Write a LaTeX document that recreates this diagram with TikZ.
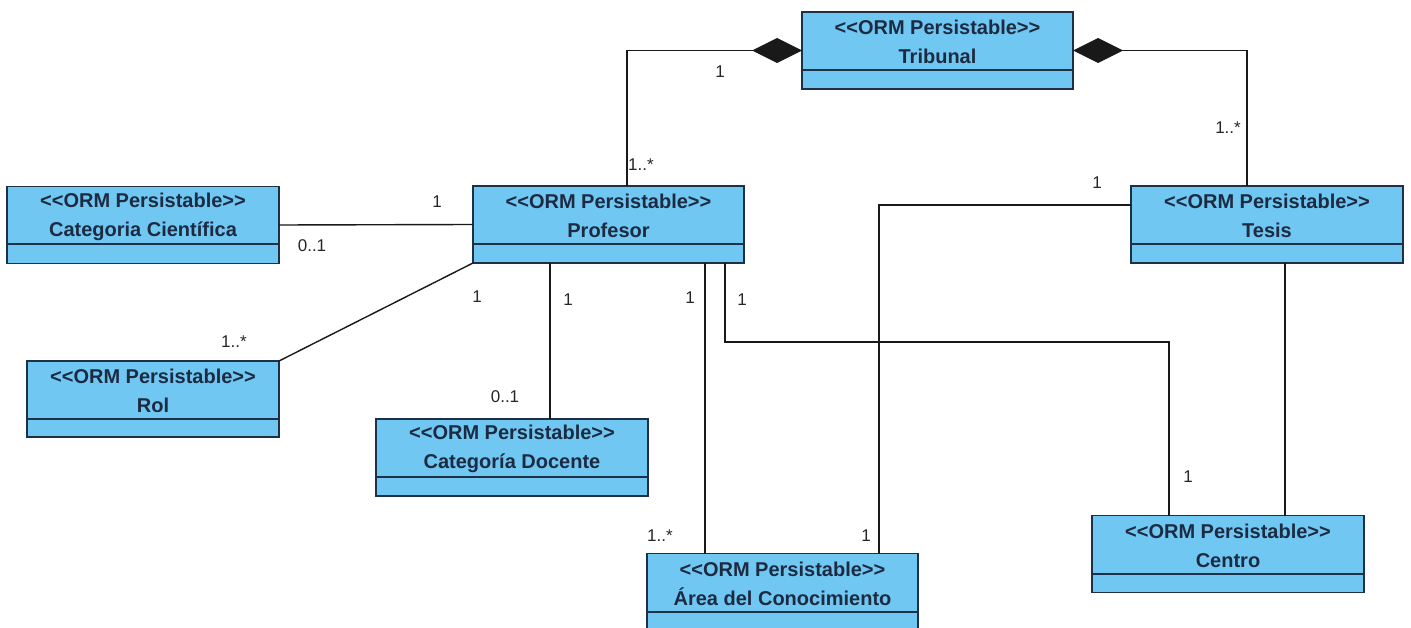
\documentclass[tikz,border=0pt]{standalone}
\usepackage{fontspec}
\setmainfont{Liberation Sans}
\usetikzlibrary{arrows.meta}

\definecolor{classfill}{RGB}{112,200,242}
\definecolor{classline}{RGB}{30,48,72}
\definecolor{classtext}{RGB}{28,42,66}
\definecolor{wire}{RGB}{25,25,25}

% stereotype line; the kerns keep << and >> from turning into guillemets
\newcommand\ormstereo{<\kern0pt<ORM Persistable>\kern0pt>}

\begin{document}
\begin{tikzpicture}[x=1pt,y=-1pt,
  umlclass/.style={draw=classline, line width=1.8pt, fill=classfill,
    minimum height=77pt, inner sep=0pt, outer sep=0pt,
    path picture={\draw[classline, line width=2pt]
      ([yshift=-58pt]path picture bounding box.north west) --
      ([yshift=-58pt]path picture bounding box.north east);}},
  umltitle/.style={align=center, inner sep=0pt, text=classtext,
    font=\fontsize{20}{29}\selectfont\bfseries},
  assoc/.style={draw=wire, line width=1.4pt},
  compo/.style={assoc, -{Diamond[length=50pt, width=25pt]}},
  mult/.style={inner sep=0pt, text=black!85, font=\fontsize{17}{17}\selectfont}
]
\useasboundingbox (0,0) rectangle (1411,628);

% classes
\node[umlclass, minimum width=271pt] (trib)   at (937.5, 50.5) {};
\node[umlclass, minimum width=271pt] (prof)   at (608.5, 224.5) {};
\node[umlclass, minimum width=272pt] (cien)   at (143, 225) {};
\node[umlclass, minimum width=252pt, minimum height=76pt] (rol) at (153, 399) {};
\node[umlclass, minimum width=272pt] (doc)    at (512, 457.5) {};
\node[umlclass, minimum width=271pt] (area)   at (782.5, 592) {};
\node[umlclass, minimum width=272pt] (centro) at (1228, 554) {};
\node[umlclass, minimum width=272pt] (tesis)  at (1267, 224.5) {};

% class names
\node[umltitle] (trib-t)   at ([yshift=-30pt]trib.north)   {\ormstereo\\Tribunal};
\node[umltitle] (prof-t)   at ([yshift=-30pt]prof.north)   {\ormstereo\\Profesor};
\node[umltitle] (cien-t)   at ([yshift=-30pt]cien.north)   {\ormstereo\\Categoria Científica};
\node[umltitle] (rol-t)    at ([yshift=-30pt]rol.north)    {\ormstereo\\Rol};
\node[umltitle] (doc-t)    at ([yshift=-30pt]doc.north)    {\ormstereo\\Categoría Docente};
\node[umltitle] (area-t)   at ([yshift=-30pt]area.north)   {\ormstereo\\Área del Conocimiento};
\node[umltitle] (centro-t) at ([yshift=-30pt]centro.north) {\ormstereo\\Centro};
\node[umltitle] (tesis-t)  at ([yshift=-30pt]tesis.north)  {\ormstereo\\Tesis};

% compositions into Tribunal
\draw[compo] ([xshift=18.5pt]prof.north) |- (trib.west);
\draw[compo] ([xshift=-20pt]tesis.north) |- (trib.east);

% associations of Profesor
\draw[assoc] (cien.east) -- (prof.west);
\draw[assoc] (rol.north east) -- (prof.south west);
\draw[assoc] ([xshift=-58.5pt]prof.south) -- ([xshift=38pt]doc.north);
\draw[assoc] ([xshift=96.5pt]prof.south) -- ([xshift=-77.5pt]area.north);
\draw[assoc] ([xshift=116.5pt]prof.south) -- ++(0,79) -| ([xshift=-59pt]centro.north);

% associations of Tesis
\draw[assoc] ([yshift=19.5pt]tesis.west) -| ([xshift=96.5pt]area.north);
\draw[assoc] ([xshift=18pt]tesis.south) -- ([xshift=57pt]centro.north);

% multiplicities
\node[mult] (m-pt1) at (720, 72)  {1};
\node[mult] (m-pt2) at (641, 165) {1..*};
\node[mult] (m-tt)  at (1228, 128) {1..*};
\node[mult] (m-cp1) at (437, 202) {1};
\node[mult] (m-cp2) at (312, 246) {0..1};
\node[mult] (m-rp1) at (477, 297) {1};
\node[mult] (m-rp2) at (234, 342) {1..*};
\node[mult] (m-dp1) at (568, 300) {1};
\node[mult] (m-dp2) at (505, 397) {0..1};
\node[mult] (m-ap1) at (690, 298) {1};
\node[mult] (m-ap2) at (660, 536) {1..*};
\node[mult] (m-cc1) at (742, 300) {1};
\node[mult] (m-cc2) at (1188, 477) {1};
\node[mult] (m-ta1) at (1097, 183) {1};
\node[mult] (m-ta2) at (866, 536) {1};
\end{tikzpicture}
\end{document}
